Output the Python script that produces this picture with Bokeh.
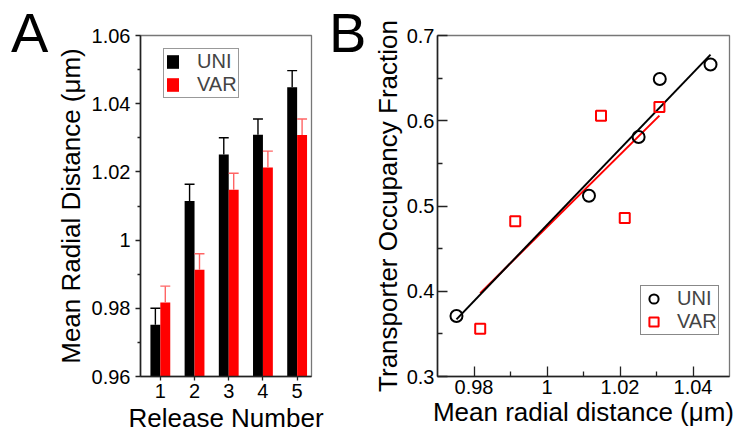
import numpy as np
from bokeh.plotting import figure
from bokeh.models import (Range1d, FixedTicker, CustomJSTickFormatter, Legend,
                          LegendItem, ColumnDataSource, Div)
from bokeh.transform import dodge
from bokeh.layouts import row
from bokeh.embed import file_html
from bokeh.resources import INLINE

# ---------------- data ----------------
release = [1, 2, 3, 4, 5]
uni_mean = [0.9752, 1.0115, 1.0251, 1.0309, 1.0448]
uni_err = [0.0048, 0.0049, 0.0049, 0.0046, 0.0049]
var_mean = [0.9817, 0.9913, 1.0148, 1.0213, 1.0308]
var_err = [0.0048, 0.0047, 0.0048, 0.0048, 0.0047]

uni_occ = [0.371, 0.512, 0.581, 0.649, 0.666]
var_occ = [0.356, 0.482, 0.606, 0.486, 0.616]

a_yticks = [0.96, 0.98, 1.0, 1.02, 1.04, 1.06]
a_yminor = [0.97, 0.99, 1.01, 1.03, 1.05]
b_xticks = [0.98, 1.0, 1.02, 1.04]
b_xminor = [0.99, 1.01, 1.03]
b_yticks = [0.3, 0.4, 0.5, 0.6, 0.7]
b_yminor = [0.35, 0.45, 0.55, 0.65]

FONT = "Liberation Sans"
RED = "#ff0000"
ERR_RED = "#ff6464"
BAR_W = 0.29
H = 435

fmt = CustomJSTickFormatter(code="return String(parseFloat(tick.toFixed(3)));")


def style_axes(p):
    for ax in (p.xaxis[0], p.yaxis[0]):
        ax.major_label_text_font = FONT
        ax.major_label_text_font_size = "20px"
        ax.major_label_text_color = "black"
        ax.axis_label_text_font = FONT
        ax.axis_label_text_font_size = "26px"
        ax.axis_label_text_font_style = "normal"
        ax.axis_label_text_color = "black"
        ax.axis_line_color = "#222222"
        ax.axis_line_width = 1.6
        ax.major_tick_line_color = "#222222"
        ax.minor_tick_line_color = "#222222"
        ax.major_tick_line_width = 1.3
        ax.minor_tick_line_width = 1.3
        ax.formatter = fmt
    p.xgrid.visible = False
    p.ygrid.visible = False
    p.outline_line_color = "#777777"
    p.outline_line_width = 1.3


def panel_letter(letter, width, pad_left):
    return Div(text=letter, width=width, height=H - 5, margin=0,
               styles={"font-family": FONT, "font-size": "56px",
                       "line-height": "1.15", "color": "black",
                       "padding-left": f"{pad_left}px", "padding-top": "1px"})


# ---------------- panel A ----------------
pA = figure(width=275, height=H, frame_width=171, frame_height=341,
            min_border_left=91, min_border_right=13, min_border_top=35,
            min_border_bottom=59, x_range=Range1d(0.42, 5.42),
            y_range=Range1d(0.96, 1.06), output_backend="svg",
            toolbar_location=None)

src = ColumnDataSource(dict(
    x=release, uni=uni_mean, var=var_mean,
    uni_top=[m + e for m, e in zip(uni_mean, uni_err)],
    var_top=[m + e for m, e in zip(var_mean, var_err)],
))

r_uni = pA.vbar(x=dodge("x", -BAR_W / 2), top="uni", bottom=0.96, width=BAR_W,
                source=src, fill_color="black", line_color=None)
r_var = pA.vbar(x=dodge("x", BAR_W / 2), top="var", bottom=0.96, width=BAR_W,
                source=src, fill_color=RED, line_color=None)

# error bars (upper only)
pA.segment(x0=dodge("x", -BAR_W / 2), y0="uni", x1=dodge("x", -BAR_W / 2), y1="uni_top",
           source=src, line_color="black", line_width=1.4)
pA.segment(x0=dodge("x", -BAR_W), y0="uni_top", x1=dodge("x", 0.0), y1="uni_top",
           source=src, line_color="black", line_width=1.4)
pA.segment(x0=dodge("x", BAR_W / 2), y0="var", x1=dodge("x", BAR_W / 2), y1="var_top",
           source=src, line_color=ERR_RED, line_width=1.4)
pA.segment(x0=dodge("x", 0.0), y0="var_top", x1=dodge("x", BAR_W), y1="var_top",
           source=src, line_color=ERR_RED, line_width=1.4)

style_axes(pA)
pA.xaxis.ticker = FixedTicker(ticks=release, minor_ticks=[])
pA.yaxis.ticker = FixedTicker(ticks=a_yticks, minor_ticks=a_yminor)
pA.xaxis.axis_label = "Release Number"
pA.yaxis.axis_label = "Mean Radial Distance (μm)"
for ax in (pA.xaxis[0], pA.yaxis[0]):
    ax.major_tick_in = 0
    ax.minor_tick_in = 0
pA.xaxis.major_tick_out = 4
pA.yaxis.major_tick_out = 5
pA.yaxis.minor_tick_out = 3
pA.xaxis.major_label_standoff = 3
pA.yaxis.major_label_standoff = 5
pA.xaxis.axis_label_standoff = 2
pA.yaxis.axis_label_standoff = 3

legA = Legend(items=[LegendItem(label="UNI", renderers=[r_uni]),
                     LegendItem(label="VAR", renderers=[r_var])],
              location=(23, 278))
legA.label_text_font = FONT
legA.label_text_font_size = "20px"
legA.glyph_width = 15
legA.glyph_height = 17
legA.label_height = 20
legA.label_standoff = 17
legA.spacing = 0
legA.padding = 1
legA.margin = 0
legA.border_line_color = "#333333"
legA.border_line_width = 1.3
pA.add_layout(legA)

# ---------------- panel B ----------------
pB = figure(width=374, height=H, frame_width=292, frame_height=341,
            min_border_left=71, min_border_right=11, min_border_top=35,
            min_border_bottom=59, x_range=Range1d(0.97, 1.05),
            y_range=Range1d(0.3, 0.7), output_backend="svg",
            toolbar_location=None)

ux = np.array(uni_mean)
vx = np.array(var_mean)
ku = np.polyfit(ux, np.array(uni_occ), 1)
kv = np.polyfit(vx, np.array(var_occ), 1)
fit_u_x = [ux.min(), ux.max()]
fit_v_x = [vx.min(), vx.max()]
pB.line(fit_v_x, list(np.polyval(kv, fit_v_x)), line_color=RED, line_width=2)
pB.line(fit_u_x, list(np.polyval(ku, fit_u_x)), line_color="black", line_width=2)

s_uni = pB.scatter(uni_mean, uni_occ, marker="circle", size=12, fill_color=None,
                   line_color="black", line_width=2)
s_var = pB.scatter(var_mean, var_occ, marker="square", size=10, fill_color=None,
                   line_color=RED, line_width=2)

style_axes(pB)
pB.xaxis.ticker = FixedTicker(ticks=b_xticks, minor_ticks=b_xminor)
pB.yaxis.ticker = FixedTicker(ticks=b_yticks, minor_ticks=b_yminor)
pB.xaxis.axis_label = "Mean radial distance (μm)"
pB.yaxis.axis_label = "Transporter Occupancy Fraction"
for ax in (pB.xaxis[0], pB.yaxis[0]):
    ax.major_tick_out = 0
    ax.minor_tick_out = 0
    ax.major_tick_in = 10
    ax.minor_tick_in = 5
    ax.major_label_standoff = 3
pB.xaxis.axis_label_standoff = 0
pB.yaxis.axis_label_standoff = 1

legB = Legend(items=[LegendItem(label="UNI", renderers=[s_uni]),
                     LegendItem(label="VAR", renderers=[s_var])],
              location=(203, 41))
legB.label_text_font = FONT
legB.label_text_font_size = "20px"
legB.glyph_width = 23
legB.glyph_height = 23
legB.label_height = 18
legB.label_standoff = 12
legB.spacing = 0
legB.padding = 1
legB.margin = 0
legB.border_line_color = "#111111"
legB.border_line_width = 1.3
pB.add_layout(legB)

layout = row(panel_letter("A", 49, 11), pA, panel_letter("B", 42, 5), pB)
open("out.html", "w").write(file_html(layout, INLINE))
